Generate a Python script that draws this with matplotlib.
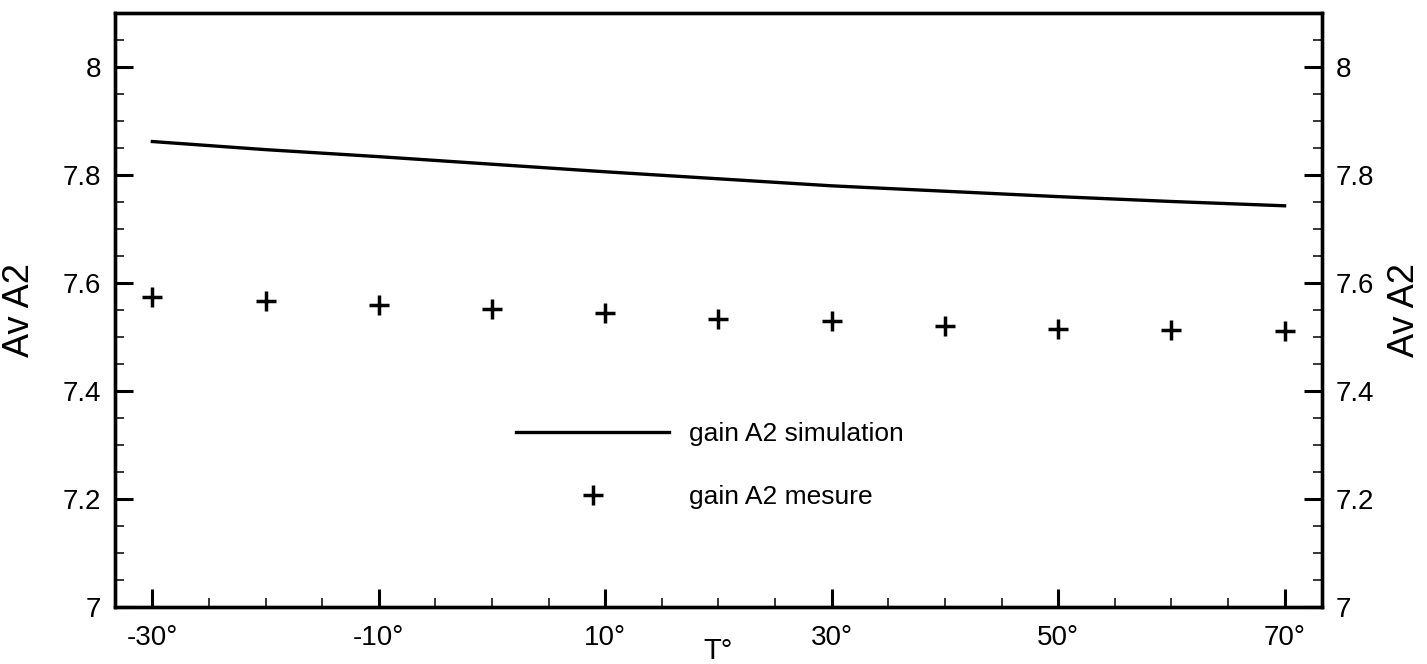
#! /usr/bin/env python3

"""
Gain A2 vs temperature: simulation curve and measured points
"""

import matplotlib
matplotlib.use('Agg')
import matplotlib.pyplot as plt
from matplotlib.ticker import MultipleLocator, FuncFormatter

# temperatures (deg C)
temp = [-30, -20, -10, 0, 10, 20, 30, 40, 50, 60, 70]
# simulated gain
gain_sim = [7.862, 7.847, 7.834, 7.820, 7.806, 7.793, 7.780, 7.770, 7.760, 7.751, 7.743]
# measured gain
gain_mes = [7.574, 7.567, 7.560, 7.552, 7.545, 7.533, 7.529, 7.520, 7.515, 7.513, 7.512]

xticks = [-30, -10, 10, 30, 50, 70]

plt.rcParams['font.family'] = ['Liberation Sans', 'DejaVu Sans']

fig = plt.figure(figsize=(14.27, 6.64), dpi=100)
ax = fig.add_axes([0.0806, 0.0858, 0.8458, 0.8946])

ax.plot(temp, gain_sim, color='black', linewidth=2.4, label='gain A2 simulation')
ax.plot(temp, gain_mes, linestyle='none', marker='+', markersize=15,
        markeredgewidth=2.5, color='black', label='gain A2 mesure')

ax.set_xlim(-33.3, 73.3)
ax.set_ylim(7, 8.1)

ax.set_xticks(xticks)
ax.xaxis.set_minor_locator(MultipleLocator(5))
ax.xaxis.set_major_formatter(FuncFormatter(lambda v, p: f'{v:g}\u00b0'))
ax.yaxis.set_major_locator(MultipleLocator(0.2))
ax.yaxis.set_minor_locator(MultipleLocator(0.05))
ax.yaxis.set_major_formatter(FuncFormatter(lambda v, p: f'{v:g}'))

# right-hand copy of the y axis
ax2 = ax.twinx()
ax2.set_ylim(ax.get_ylim())
ax2.yaxis.set_major_locator(MultipleLocator(0.2))
ax2.yaxis.set_minor_locator(MultipleLocator(0.05))
ax2.yaxis.set_major_formatter(FuncFormatter(lambda v, p: f'{v:g}'))

for a in (ax, ax2):
    for s in a.spines.values():
        s.set_linewidth(2.4)
    a.tick_params(which='major', direction='in', length=13, width=2.2,
                  labelsize=20, pad=10)
    a.tick_params(which='minor', direction='in', length=6.5, width=1.1)
ax.tick_params(top=False, right=False, which='both')
ax.tick_params(axis='x', pad=13)

ax.set_ylabel('Av A2', fontsize=26)
ax.yaxis.set_label_coords(-0.065, 0.5)
ax2.set_ylabel('Av A2', fontsize=26, rotation=90, va='center')
ax2.yaxis.set_label_coords(1.068, 0.5)
ax.set_xlabel('T\u00b0', fontsize=21)
ax.xaxis.set_label_coords(0.5, -0.05)

ax.legend(loc='center', bbox_to_anchor=(0.493, 0.238), frameon=False,
          fontsize=19, handlelength=5.8, handletextpad=0.75,
          labelspacing=1.5, numpoints=1)

fig.savefig('out.png', dpi=100)
